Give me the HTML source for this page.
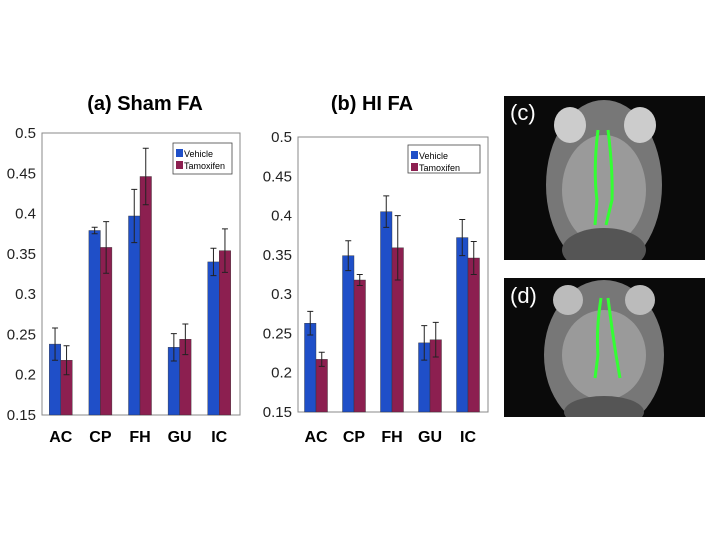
<!DOCTYPE html>
<html><head><meta charset="utf-8"><style>
body{margin:0;background:#fff;width:720px;height:540px;overflow:hidden;font-family:"Liberation Sans",Arial,sans-serif}
svg{position:absolute;left:0;top:0}
</style></head><body>
<svg width="720" height="540">
<defs>
<clipPath id="clc"><rect x="504" y="96" width="201" height="164"/></clipPath>
<clipPath id="cld"><rect x="504" y="278" width="201" height="139"/></clipPath>
</defs>
<text x="145" y="110" font-size="20" font-weight="bold" text-anchor="middle">(a)  Sham FA</text>
<text x="372" y="110" font-size="20" font-weight="bold" text-anchor="middle">(b)  HI FA</text>
<g id="ca"></g>
<g id="cb"></g>
<g clip-path="url(#clc)">
<rect x="504" y="96" width="201" height="164" fill="#0a0a0a"/>
<ellipse cx="604" cy="185" rx="58" ry="85" fill="#777"/>
<ellipse cx="604" cy="190" rx="42" ry="55" fill="#9a9a9a"/>
<ellipse cx="570" cy="125" rx="16" ry="18" fill="#ccc"/>
<ellipse cx="640" cy="125" rx="16" ry="18" fill="#ccc"/>
<ellipse cx="604" cy="250" rx="42" ry="22" fill="#555"/>
<path d="M598 130 Q593 170 597 200 L595 225" stroke="#3f3" stroke-width="3" fill="none"/>
<path d="M608 130 Q613 170 612 200 L606 225" stroke="#3f3" stroke-width="3" fill="none"/>
<text x="510" y="120" font-size="22" fill="#fff">(c)</text>
</g>
<g clip-path="url(#cld)">
<rect x="504" y="278" width="201" height="139" fill="#0a0a0a"/>
<ellipse cx="604" cy="355" rx="60" ry="75" fill="#777"/>
<ellipse cx="604" cy="355" rx="42" ry="45" fill="#9a9a9a"/>
<ellipse cx="568" cy="300" rx="15" ry="15" fill="#bbb"/>
<ellipse cx="640" cy="300" rx="15" ry="15" fill="#bbb"/>
<ellipse cx="604" cy="412" rx="40" ry="16" fill="#555"/>
<path d="M601 298 Q596 330 598 355 L595 378" stroke="#3f3" stroke-width="3" fill="none"/>
<path d="M608 298 Q612 330 616 355 L620 378" stroke="#3f3" stroke-width="3" fill="none"/>
<text x="510" y="303" font-size="22" fill="#fff">(d)</text>
</g>
</svg>
<script>
const categories=["AC","CP","FH","GU","IC"];
const ticks=[0.15,0.2,0.25,0.3,0.35,0.4,0.45,0.5];
const shamVehicle=[0.238,0.379,0.397,0.234,0.340];
const shamVehicleErr=[0.020,0.004,0.033,0.017,0.017];
const shamTamox=[0.218,0.358,0.446,0.244,0.354];
const shamTamoxErr=[0.018,0.032,0.035,0.019,0.027];
const hiVehicle=[0.263,0.349,0.405,0.238,0.372];
const hiVehicleErr=[0.015,0.019,0.020,0.022,0.023];
const hiTamox=[0.217,0.318,0.359,0.242,0.346];
const hiTamoxErr=[0.009,0.007,0.041,0.022,0.021];
const NS="http://www.w3.org/2000/svg";
function mk(p,t,a){const e=document.createElementNS(NS,t);for(const k in a)e.setAttribute(k,a[k]);p.appendChild(e);return e;}
function draw(g,L,R,T,B,v,ve,tm,te,leg){
 const y=val=>B-(val-0.15)/(0.5-0.15)*(B-T);
 const box=mk(g,'rect',{x:L,y:T,width:R-L,height:B-T,fill:'none',stroke:'#888','stroke-width':1});
 
 
 ticks.forEach(t=>{
  const tx=mk(g,'text',{x:L-6,y:y(t)+5,'font-size':15,'text-anchor':'end',fill:'#222'});tx.textContent=String(t);
  
  
 });
 const gw=(R-L)/categories.length, bw=11.5;
 categories.forEach((c,i)=>{
  const cx=L+gw*(i+0.5)-1;
  [[v,ve,'#1f4fc8',cx-bw],[tm,te,'#8c1f50',cx]].forEach(([d,e,col,x],s)=>{
   const r=mk(g,'rect',{x:x,y:y(d[i]),width:bw,height:B-y(d[i]),fill:col,stroke:'#333','stroke-width':0.4});
   
   
   const m=x+bw/2,y1=y(d[i]+e[i]),y2=y(d[i]-e[i]);
   const eb=mk(g,'path',{d:`M${m} ${y1}V${y2}M${m-3} ${y1}H${m+3}M${m-3} ${y2}H${m+3}`,stroke:'#222','stroke-width':1,fill:'none'});
   
   
  });
  const lb=mk(g,'text',{x:cx,y:442,'font-size':16,'font-weight':'bold','text-anchor':'middle'});lb.textContent=c;
  
  
 });
 const [lx,ly,lw,lh]=leg;
 const lg=mk(g,'g',{});
 
 
 mk(lg,'rect',{x:lx,y:ly,width:lw,height:lh,fill:'#fff',stroke:'#444','stroke-width':0.8});
 [['Vehicle','#1f4fc8'],['Tamoxifen','#8c1f50']].forEach(([n,col],k)=>{
  const yy=ly+6+k*12;
  mk(lg,'rect',{x:lx+3,y:yy,width:7,height:8,fill:col});
  const t=mk(lg,'text',{x:lx+11,y:yy+8,'font-size':9});t.textContent=n;
  
  
 });
}
draw(document.getElementById('ca'),42,240,133,415,shamVehicle,shamVehicleErr,shamTamox,shamTamoxErr,[173,143,59,31]);
draw(document.getElementById('cb'),298,488,137,412,hiVehicle,hiVehicleErr,hiTamox,hiTamoxErr,[408,145,72,28]);
</script>
</body></html>
